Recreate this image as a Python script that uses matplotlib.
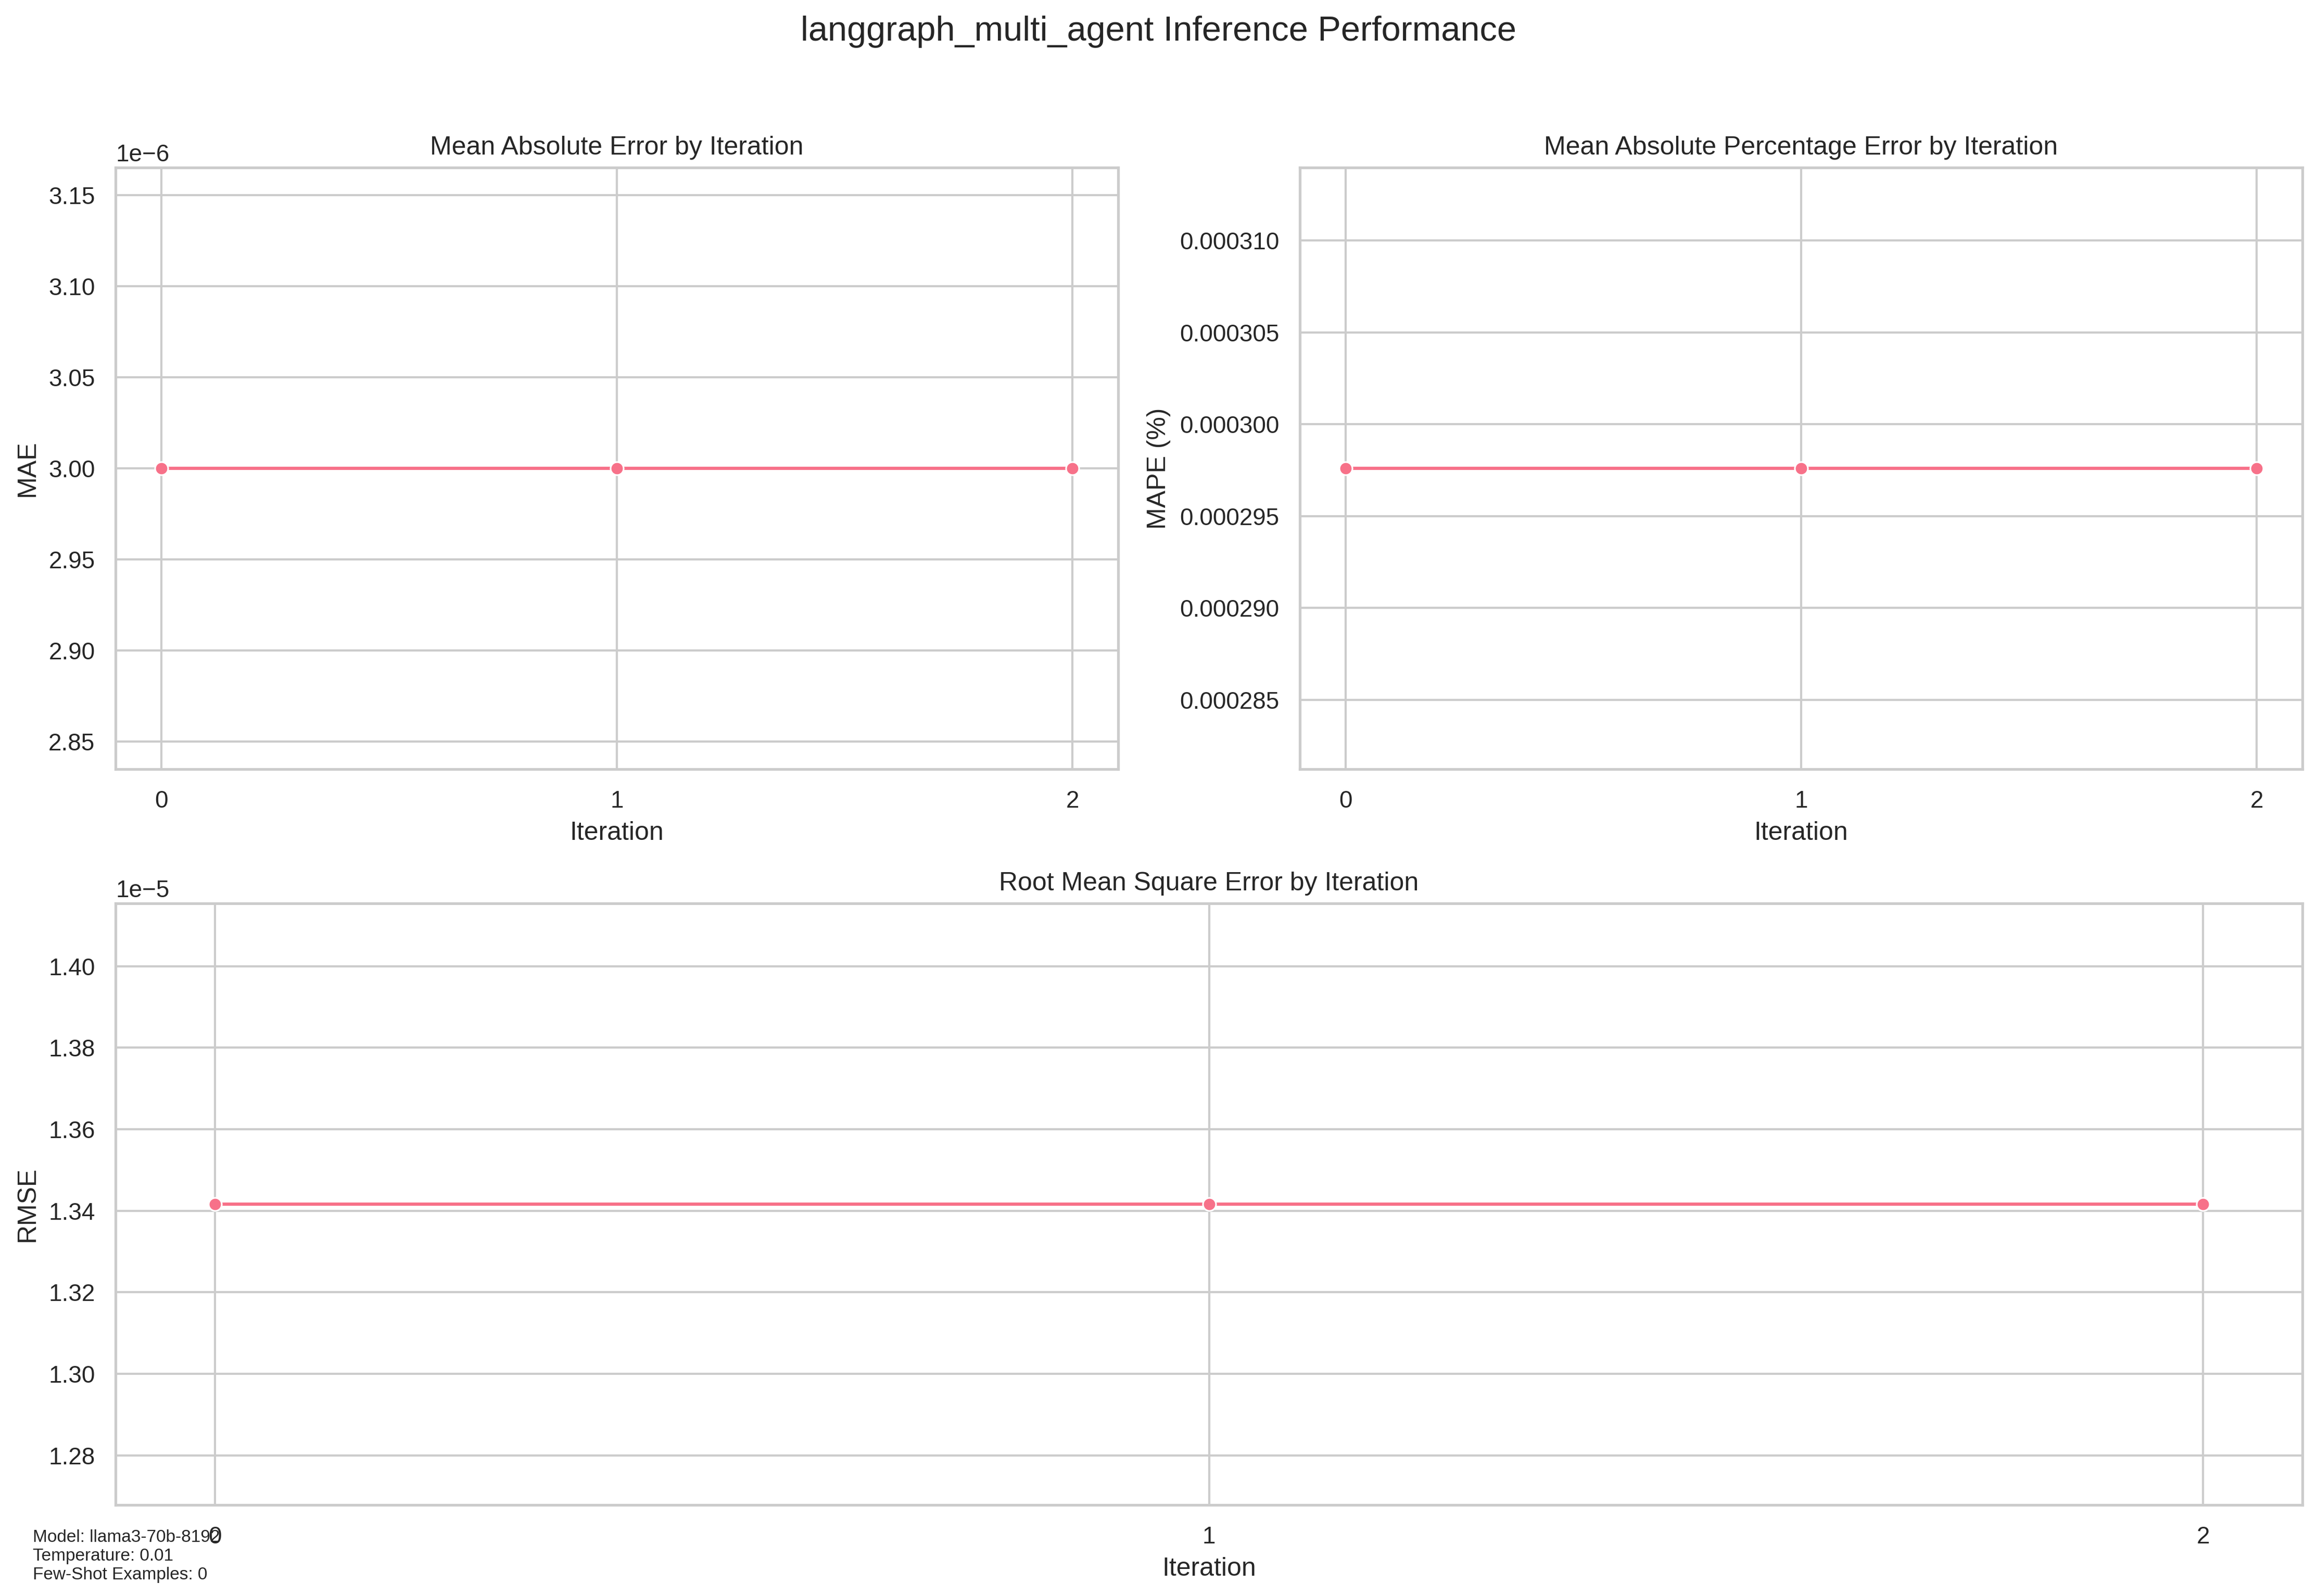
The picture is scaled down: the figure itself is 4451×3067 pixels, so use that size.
import matplotlib
matplotlib.use("Agg")
import matplotlib.pyplot as plt
import seaborn as sns
import numpy as np
import pandas as pd

iterations = [0, 1, 2]
mae_values = [3.0e-6, 3.0e-6, 3.0e-6]
mape_values = [0.0002976, 0.0002976, 0.0002976]
rmse_values = [1.3416e-5, 1.3416e-5, 1.3416e-5]
info_lines = ["Model: llama3-70b-8192", "Temperature: 0.01", "Few-Shot Examples: 0"]

sns.set_theme(style="whitegrid")
plt.rcParams['font.family'] = ['Liberation Sans', 'DejaVu Sans']
color = sns.color_palette("husl", 8)[0]

df = pd.DataFrame({"Iteration": iterations, "MAE": mae_values,
                   "MAPE": mape_values, "RMSE": rmse_values})

W, H = 4451, 3067
fig = plt.figure(figsize=(W / 300, H / 300), dpi=300)

def px_axes(x0, x1, y0, y1):
    return fig.add_axes([x0 / W, 1 - y1 / H, (x1 - x0) / W, (y1 - y0) / H])

ax1 = px_axes(222, 2148, 322, 1478)
ax2 = px_axes(2497, 4423, 322, 1478)
ax3 = px_axes(222, 4423, 1736, 2892)

sns.lineplot(data=df, x="Iteration", y="MAE", marker="o", color=color, ax=ax1)
ax1.set_title("Mean Absolute Error by Iteration")
ax1.set_xticks(iterations)

sns.lineplot(data=df, x="Iteration", y="MAPE", marker="o", color=color, ax=ax2)
ax2.set_title("Mean Absolute Percentage Error by Iteration")
ax2.set_ylabel("MAPE (%)")
ax2.set_xticks(iterations)
ax2.ticklabel_format(axis='y', style='plain', useOffset=False)

sns.lineplot(data=df, x="Iteration", y="RMSE", marker="o", color=color, ax=ax3)
ax3.set_title("Root Mean Square Error by Iteration")
ax3.set_xticks(iterations)

fig.text(0.5, 1 - 78 / H, "langgraph_multi_agent Inference Performance",
         fontsize=16, ha="center", va="baseline")
fig.text(63 / W, 1 - 3042 / H, "\n".join(info_lines), fontsize=8, va="bottom")
fig.savefig("out.png", dpi=300)
